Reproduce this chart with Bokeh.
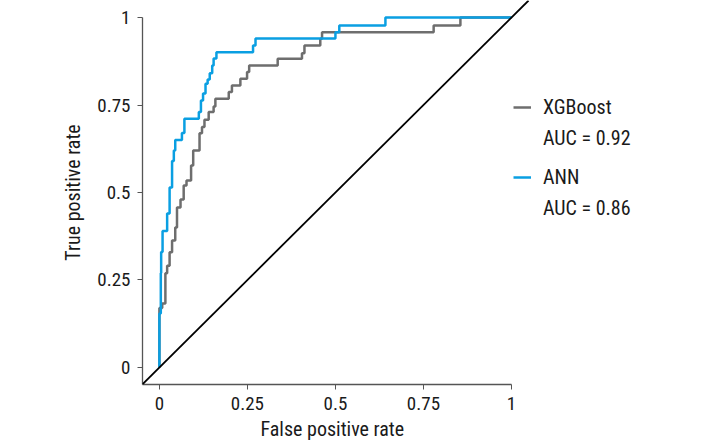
from bokeh.plotting import figure
from bokeh.models import Range1d, FixedTicker, Slope, Legend, LegendItem, Title
from bokeh.embed import file_html
from bokeh.resources import INLINE

# ---- data ----
xgb_fpr = [0.0, 0.0, 0.008, 0.017, 0.022, 0.029, 0.036, 0.045, 0.050, 0.060,
           0.069, 0.077, 0.090, 0.096, 0.114, 0.121, 0.128, 0.140, 0.154, 0.159,
           0.197, 0.206, 0.230, 0.249, 0.255, 0.336, 0.405, 0.412, 0.457, 0.462,
           0.779, 0.855, 1.0]
xgb_tpr = [0.0, 0.170, 0.183, 0.269, 0.291, 0.329, 0.363, 0.400, 0.457, 0.480,
           0.520, 0.534, 0.577, 0.620, 0.669, 0.687, 0.708, 0.730, 0.746, 0.768,
           0.787, 0.806, 0.825, 0.844, 0.863, 0.882, 0.898, 0.920, 0.939, 0.958,
           0.977, 1.0, 1.0]

ann_fpr = [0.0, 0.0, 0.004, 0.005, 0.009, 0.022, 0.029, 0.036, 0.041, 0.045,
           0.064, 0.071, 0.112, 0.118, 0.124, 0.131, 0.137, 0.143, 0.150, 0.154,
           0.162, 0.266, 0.273, 0.500, 0.511, 0.642, 1.0]
ann_tpr = [0.0, 0.154, 0.270, 0.330, 0.390, 0.440, 0.514, 0.590, 0.620, 0.650,
           0.670, 0.711, 0.730, 0.763, 0.783, 0.811, 0.823, 0.841, 0.863, 0.883,
           0.901, 0.920, 0.940, 0.958, 0.977, 1.0, 1.0]

series_names = ["XGBoost", "ANN"]
auc_labels = ["AUC = 0.92", "AUC = 0.86"]
tick_values = [0, 0.25, 0.5, 0.75, 1]
tick_labels = ["0", "0.25", "0.5", "0.75", "1"]
x_title = "False positive rate"
y_title = "True positive rate"

FONT = "Roboto Condensed, DejaVu Sans Condensed, Liberation Sans Narrow, Roboto, sans-serif"
FS = "19px"
FS_T = "20px"
GREY = "#6e6e6e"
BLUE = "#0a9fe2"

p = figure(width=703, height=445, output_backend="svg", toolbar_location=None,
           x_range=Range1d(-0.048, 1.5455), y_range=Range1d(-0.0486, 1.0486),
           min_border_left=142, min_border_right=0, min_border_top=0,
           min_border_bottom=61)
p.outline_line_color = None
p.grid.visible = False
p.background_fill_color = None
p.border_fill_color = "white"

r_xgb = p.step(xgb_fpr, xgb_tpr, mode="after", line_color=GREY, line_width=2.5)
r_ann = p.step(ann_fpr, ann_tpr, mode="after", line_color=BLUE, line_width=2.5)
# invisible renderer used only as the glyph slot of the AUC legend rows
r_blank = p.line(x=[], y=[], line_alpha=0)

p.add_layout(Slope(gradient=1, y_intercept=0, line_color="black", line_width=1.8))

for ax in (p.xaxis[0], p.yaxis[0]):
    ax.ticker = FixedTicker(ticks=tick_values)
    ax.major_label_overrides = {v: t for v, t in zip(tick_values, tick_labels)}
    ax.axis_label_text_font = FONT
    ax.axis_label_text_font_style = "normal"
    ax.axis_label_text_font_size = FS_T
    ax.axis_label_text_color = "#1a1a1a"
    ax.major_label_text_font = FONT
    ax.major_label_text_font_size = FS
    ax.major_label_text_color = "#1a1a1a"
    ax.axis_line_color = "#555555"
    ax.axis_line_width = 1.3
    ax.major_tick_line_color = "#555555"
    ax.major_tick_in = 0
    ax.major_tick_out = 5
    ax.minor_tick_line_color = None

p.yaxis[0].axis_label = y_title
p.xaxis[0].bounds = (-0.048, 1)
p.yaxis[0].bounds = (-0.0486, 1)
p.xaxis[0].major_label_standoff = 7
p.yaxis[0].major_label_standoff = 7
p.yaxis[0].axis_label_standoff = 9

# x-axis title, centred under the 0..1 axis (the frame itself is wider)
xt = Title(text=x_title, align="left", offset=118, standoff=4,
           text_font=FONT, text_font_size=FS_T, text_font_style="normal",
           text_color="#1a1a1a")
p.add_layout(xt, "below")


def make_legend(name, auc, renderer, loc):
    lg = Legend(items=[LegendItem(label=name, renderers=[renderer]),
                       LegendItem(label=auc, renderers=[r_blank])],
                location=loc)
    lg.label_text_font = FONT
    lg.label_text_font_size = FS_T
    lg.label_text_color = "#1a1a1a"
    lg.glyph_width = 18
    lg.glyph_height = 20
    lg.label_height = 20
    lg.label_standoff = 12
    lg.spacing = 7
    lg.padding = 0
    lg.margin = 0
    lg.border_line_color = None
    lg.background_fill_alpha = 0
    return lg


p.add_layout(make_legend(series_names[0], auc_labels[0], r_xgb, (371, 234)))
p.add_layout(make_legend(series_names[1], auc_labels[1], r_ann, (371, 164)))

open("out.html", "w").write(file_html(p, INLINE))
